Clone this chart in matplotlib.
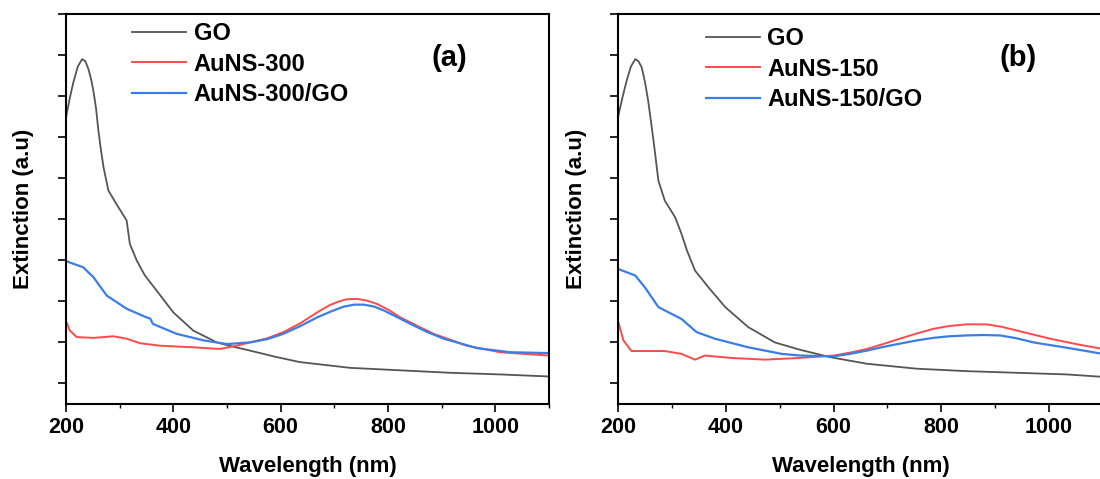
import matplotlib
matplotlib.use("Agg")
import matplotlib.pyplot as plt
from matplotlib.ticker import MultipleLocator

plt.rcParams['font.family'] = ['Liberation Sans', 'DejaVu Sans']
plt.rcParams['font.weight'] = 'bold'

# panel (a) data
wl_go_a = [200, 207, 214, 222, 230, 236, 242, 247, 251, 256, 260, 265, 270, 279, 294, 313, 319, 332, 347, 369,
           400, 437, 481, 510, 543, 590, 636, 730, 823, 916, 1009, 1100]
go_a = [6.48, 6.95, 7.35, 7.72, 7.90, 7.85, 7.65, 7.40, 7.13, 6.70, 6.20, 5.70, 5.26, 4.70, 4.37, 3.97, 3.40, 2.99, 2.63, 2.26,
        1.73, 1.29, 1.00, 0.90, 0.80, 0.65, 0.52, 0.38, 0.32, 0.26, 0.22, 0.17]

wl_au_a = [200, 207, 220, 251, 288, 313, 338, 375, 437, 487, 518, 543, 575, 605, 637, 668, 690, 705, 722, 742, 760, 779,
           800, 823, 855, 885, 947, 1009, 1100]
au_a = [1.53, 1.29, 1.13, 1.11, 1.15, 1.09, 0.98, 0.92, 0.88, 0.84, 0.92, 1.00, 1.10, 1.25, 1.47, 1.73, 1.90, 1.98, 2.05, 2.06, 2.02, 1.94,
        1.80, 1.61, 1.40, 1.21, 0.92, 0.76, 0.68]

wl_mix_a = [200, 232, 251, 276, 313, 350, 357, 362, 406, 456, 500, 543, 575, 605, 637, 668, 695, 717, 737, 755, 775, 792,
            815, 842, 872, 904, 966, 1028, 1100]
mix_a = [2.98, 2.83, 2.59, 2.14, 1.82, 1.61, 1.58, 1.45, 1.21, 1.05, 0.96, 1.00, 1.08, 1.21, 1.40, 1.61, 1.76, 1.87, 1.92, 1.92, 1.87, 1.78,
         1.63, 1.45, 1.26, 1.09, 0.86, 0.76, 0.74]

# panel (b) data
wl_go_b = [200, 208, 216, 224, 232, 238, 244, 250, 256, 261, 266, 275, 287, 306, 318, 328, 343, 368, 399, 442, 491, 538,
           594, 662, 754, 847, 940, 1033, 1100]
go_b = [6.48, 6.95, 7.37, 7.72, 7.90, 7.85, 7.70, 7.35, 6.89, 6.40, 5.91, 4.94, 4.45, 4.05, 3.64, 3.24, 2.75, 2.34, 1.86, 1.37, 1.00, 0.82,
        0.64, 0.48, 0.36, 0.30, 0.26, 0.22, 0.16]

wl_au_b = [200, 210, 225, 287, 318, 343, 361, 411, 473, 535, 600, 630, 662, 692, 723, 755, 785, 815, 847, 884, 912, 940,
           1002, 1050, 1100]
au_b = [1.53, 1.05, 0.79, 0.79, 0.72, 0.58, 0.68, 0.62, 0.58, 0.62, 0.68, 0.75, 0.84, 0.96, 1.09, 1.22, 1.33, 1.40, 1.44, 1.44, 1.38, 1.29,
        1.09, 0.96, 0.84]

wl_mix_b = [200, 232, 250, 275, 318, 346, 380, 442, 504, 538, 600, 630, 662, 692, 723, 755, 785, 815, 847, 878, 909, 940,
            971, 1033, 1100]
mix_b = [2.79, 2.63, 2.34, 1.86, 1.57, 1.25, 1.09, 0.88, 0.72, 0.68, 0.66, 0.72, 0.80, 0.89, 0.97, 1.05, 1.11, 1.15, 1.17, 1.18, 1.17, 1.10,
         1.00, 0.87, 0.72]

panels = [
    ("(a)", "AuNS-300", wl_go_a, go_a, wl_au_a, au_a, wl_mix_a, mix_a),
    ("(b)", "AuNS-150", wl_go_b, go_b, wl_au_b, au_b, wl_mix_b, mix_b),
]

fig = plt.figure(figsize=(11, 4.79), dpi=100)
ax_a = fig.add_axes([0.060, 0.1566, 0.4391, 0.8142])
ax_b = fig.add_axes([0.5618, 0.1566, 0.4409, 0.8142])

leg_pos = [(0.137, 0.980), (0.181, 0.967)]
tag_pos = [(0.793, 0.887), (0.825, 0.887)]
ylab_x = [-0.066, -0.064]

for i, (ax, p) in enumerate(zip([ax_a, ax_b], panels)):
    tag, name, wg, g, wa, a, wm, m = p
    ax.plot(wg, g, color='#555555', lw=1.3, label='GO')
    ax.plot(wa, a, color='#ff4a4a', lw=1.4, label=name)
    ax.plot(wm, m, color='#3a7de8', lw=1.6, label=name + '/GO')

    ax.set_xlim(200, 1100)
    ax.set_ylim(-0.5, 9)
    ax.xaxis.set_major_locator(MultipleLocator(200))
    ax.xaxis.set_minor_locator(MultipleLocator(100))
    ax.yaxis.set_major_locator(MultipleLocator(1))
    ax.set_yticklabels([])
    ax.tick_params(axis='both', which='major', direction='out', length=5.5, width=1.2,
                   labelsize=15.5, pad=4)
    ax.tick_params(axis='x', which='minor', direction='out', length=3, width=1.0)
    for s in ax.spines.values():
        s.set_linewidth(1.5)

    ax.set_xlabel('Wavelength (nm)', fontsize=16, fontweight='bold', labelpad=13)
    ax.set_ylabel('Extinction (a.u)', fontsize=16, fontweight='bold')
    ax.yaxis.set_label_coords(ylab_x[i], 0.5)

    ax.legend(loc='upper left', bbox_to_anchor=leg_pos[i], frameon=False,
              fontsize=17, handlelength=2.3, handletextpad=0.3,
              labelspacing=0.33, borderpad=0, borderaxespad=0)
    ax.text(tag_pos[i][0], tag_pos[i][1], tag, transform=ax.transAxes,
            fontsize=21, fontweight='bold', ha='center', va='center')

fig.savefig('out.png', dpi=100)
